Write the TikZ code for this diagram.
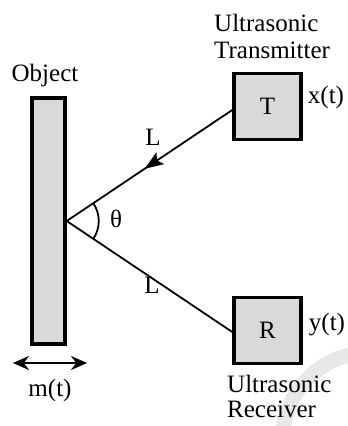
\documentclass[tikz,border=0pt]{standalone}
\usepackage{fontspec}
\setmainfont{Liberation Serif}
\usetikzlibrary{arrows.meta,decorations.markings}
\definecolor{boxgray}{RGB}{217,217,217}
\definecolor{markgray}{RGB}{232,232,232}
\begin{document}
\begin{tikzpicture}[x=1pt,y=-1pt,
  every node/.style={inner sep=0pt, font=\fontsize{25}{30}\selectfont},
  block/.style={draw, line width=3.5pt, fill=boxgray, minimum width=67pt, minimum height=66pt},
  conn/.style={line width=1.8pt}]
\useasboundingbox (0,0) rectangle (348,426);
% light watermark arc
\begin{scope}
  \clip (0,0) rectangle (348,426);
  \draw[markgray, line width=15pt] (370,440) circle[radius=87.5];
\end{scope}
% object
\node[draw, line width=3.5pt, fill=boxgray, minimum width=33pt, minimum height=246pt] (obj) at (48.5,221) {};
\node (objlbl) at (45,75) {Object};
% transmitter and receiver
\node[block] (T) at (267.5,106.5) {T};
\node[block] (R) at (267.5,330.5) {R};
\node[anchor=base west] (ut1) at (214,31) {Ultrasonic};
\node[anchor=base west] (ut2) at (214,58) {Transmitter};
\node[anchor=base west] (ur1) at (227,392) {Ultrasonic};
\node[anchor=base west] (ur2) at (227,417) {Receiver};
\node (xt) at (326,97) {x(t)};
\node (yt) at (327,325) {y(t)};
% connectors
\draw[conn, decoration={markings, mark=at position 0.53 with {\arrow{Stealth[length=19pt,width=14pt,inset=4pt]}}}, postaction={decorate}]
  ([yshift=-3.5pt]T.west) -- (obj.east);
\draw[conn] (obj.east) -- ([yshift=-1.5pt]R.west);
\node (L1) at (153,137) {L};
\node (L2) at (152,285) {L};
% angle
\draw[line width=1.8pt] (obj.east) ++(-35:32) arc[start angle=-35, end angle=35, radius=32];
\node (th) at (116,219) {θ};
% motion arrow
\coordinate (ml) at (13,363);
\coordinate (mr) at (87,363);
\draw[line width=2.2pt, {Stealth[length=16pt,width=14pt]}-{Stealth[length=16pt,width=14pt]}] (ml) -- (mr);
\node (mt) at (50,390) {m(t)};
\end{tikzpicture}
\end{document}
